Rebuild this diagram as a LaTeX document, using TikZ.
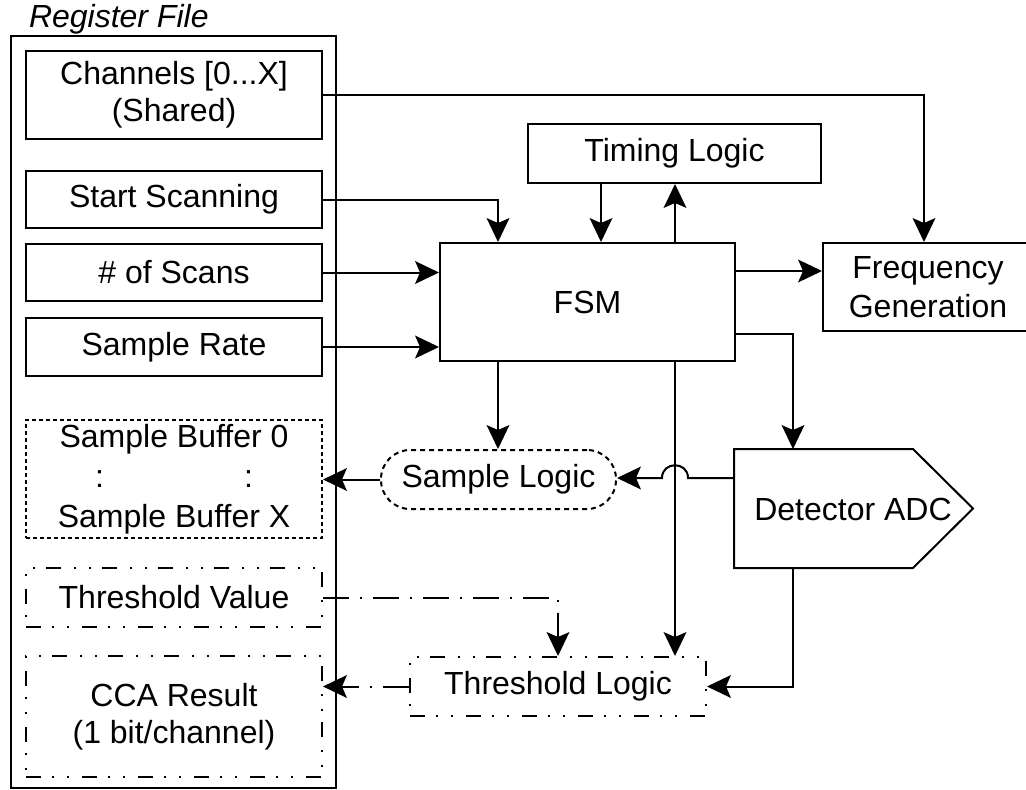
\documentclass[tikz,border=0pt]{standalone}
\usepackage{fontspec}
\setmainfont{Liberation Sans}
\usetikzlibrary{arrows.meta,calc}
\begin{document}
\begin{tikzpicture}[x=1pt,y=-1pt,
  line width=2pt,
  every node/.style={font=\fontsize{32}{37}\selectfont, inner sep=0pt, align=center},
  blk/.style={draw, rectangle, minimum width=#1},
  blk/.default=296,
  arr/.style={-{Stealth[length=24pt,width=23pt,inset=5pt,line width=0pt]}},
  dotbox/.style={dash pattern=on 4pt off 3pt},
  dashbox/.style={dash pattern=on 5pt off 4pt},
  ddbox/.style={dash pattern=on 15pt off 11pt on 2pt off 13pt on 2pt off 13pt},
  dashdot/.style={dash pattern=on 26pt off 11pt on 2pt off 11pt}
]
\useasboundingbox (0,0) rectangle (1026,790);

% Register file container
\node[draw, minimum width=325, minimum height=752] (reg) at (173.5,412) {};
\node[anchor=base west, font=\fontsize{32}{37}\selectfont\itshape] (reglabel) at (28,27) {Register File};

% Registers
\node[blk, minimum height=88] (ch) at (174,95) {Channels [0...X]\\(Shared)};
\node[blk, minimum height=57] (start) at (174,199.5) {Start Scanning};
\node[blk, minimum height=57] (scans) at (174,272.5) {\# of Scans};
\node[blk, minimum height=58] (rate) at (174,347) {Sample Rate};
\node[blk, dotbox, minimum height=118, font=\fontsize{32}{40}\selectfont] (buf) at (174,479)
  {Sample Buffer 0\\\makebox[158pt]{:\hfill:}\\Sample Buffer X};
\node[blk, ddbox, minimum height=59] (thv) at (174,597.5) {Threshold Value};
\node[blk, ddbox, minimum height=121] (cca) at (174,716.5) {CCA Result\\(1 bit/channel)};

% Processing blocks
\node[blk=293, minimum height=59] (timing) at (674.5,153.5) {Timing Logic};
\node[blk=295, minimum height=118] (fsm) at (587.5,302) {FSM};
\node[blk=210, minimum height=88, font=\fontsize{32}{39}\selectfont] (freq) at (928,287) {Frequency\\Generation};
\node[draw, dashbox, rounded corners=29pt, minimum width=235, minimum height=59] (samp) at (498.5,479.5) {Sample Logic};
\node[blk, ddbox, minimum height=59] (thl) at (558,686.5) {Threshold Logic};

% Detector ADC (pentagon)
\node[minimum width=237, minimum height=117] (adc) at (853.5,508.5) {};
\draw (adc.north west) -- ([xshift=-60pt]adc.north east) -- (adc.east)
      -- ([xshift=-60pt]adc.south east) -- (adc.south west) -- cycle;
\node (adctext) at (853,509) {Detector ADC};

% helper coordinates
\coordinate (fsmA) at ($(fsm.north west)+(59,0)$);
\coordinate (fsmB) at ($(fsm.north west)+(236,0)$);
\coordinate (fsmC) at ($(fsm.south west)+(59,0)$);
\coordinate (fsmD) at ($(fsm.south west)+(236,0)$);
\coordinate (timA) at ($(timing.south west)+(74,0)$);
\coordinate (fsmE1) at ($(fsm.north east)+(0,29)$);
\coordinate (fsmE2) at ($(fsm.south east)+(0,-28)$);
\coordinate (adcT) at ($(adc.north west)+(59,0)$);
\coordinate (adcB) at ($(adc.south west)+(59,0)$);
\coordinate (adcW) at ($(adc.north west)+(0,29)$);
\coordinate (jmp) at (fsmD |- adcW);

% connectors
\draw[arr] (ch.east) -| ([xshift=-4pt]freq.north);
\draw[arr] (start.east) -| (fsmA);
\draw[arr] (timA) -- (timA |- fsm.north);
\draw[arr] (fsmB) -- (fsmB |- timing.south);
\draw[arr] (scans.east) -- (scans.east -| fsm.west);
\draw[arr] (rate.east) -- (rate.east -| fsm.west);
\draw[arr] (fsmE1) -- (fsmE1 -| freq.west);
\draw[arr] (fsmE2) -| (adcT);
\draw[arr] (fsmC) -- (fsmC |- samp.north);
\draw[arr] (fsmD) -- (fsmD |- thl.north);
\draw[arr] (adcW) -- ([xshift=13pt]jmp)
   .. controls ([xshift=13pt,yshift=17pt]jmp) and ([xshift=-13pt,yshift=17pt]jmp) .. ([xshift=-13pt]jmp)
   -- (samp.east |- jmp);
\draw[arr] (samp.west) -- (samp.west -| buf.east);
\draw[arr, dashdot] (thv.east) -| (thl.north);
\draw[arr, dashdot] (thl.west) -- (thl.west -| cca.east);
\draw[arr] (adcB) |- (thl.east);
\end{tikzpicture}
\end{document}
